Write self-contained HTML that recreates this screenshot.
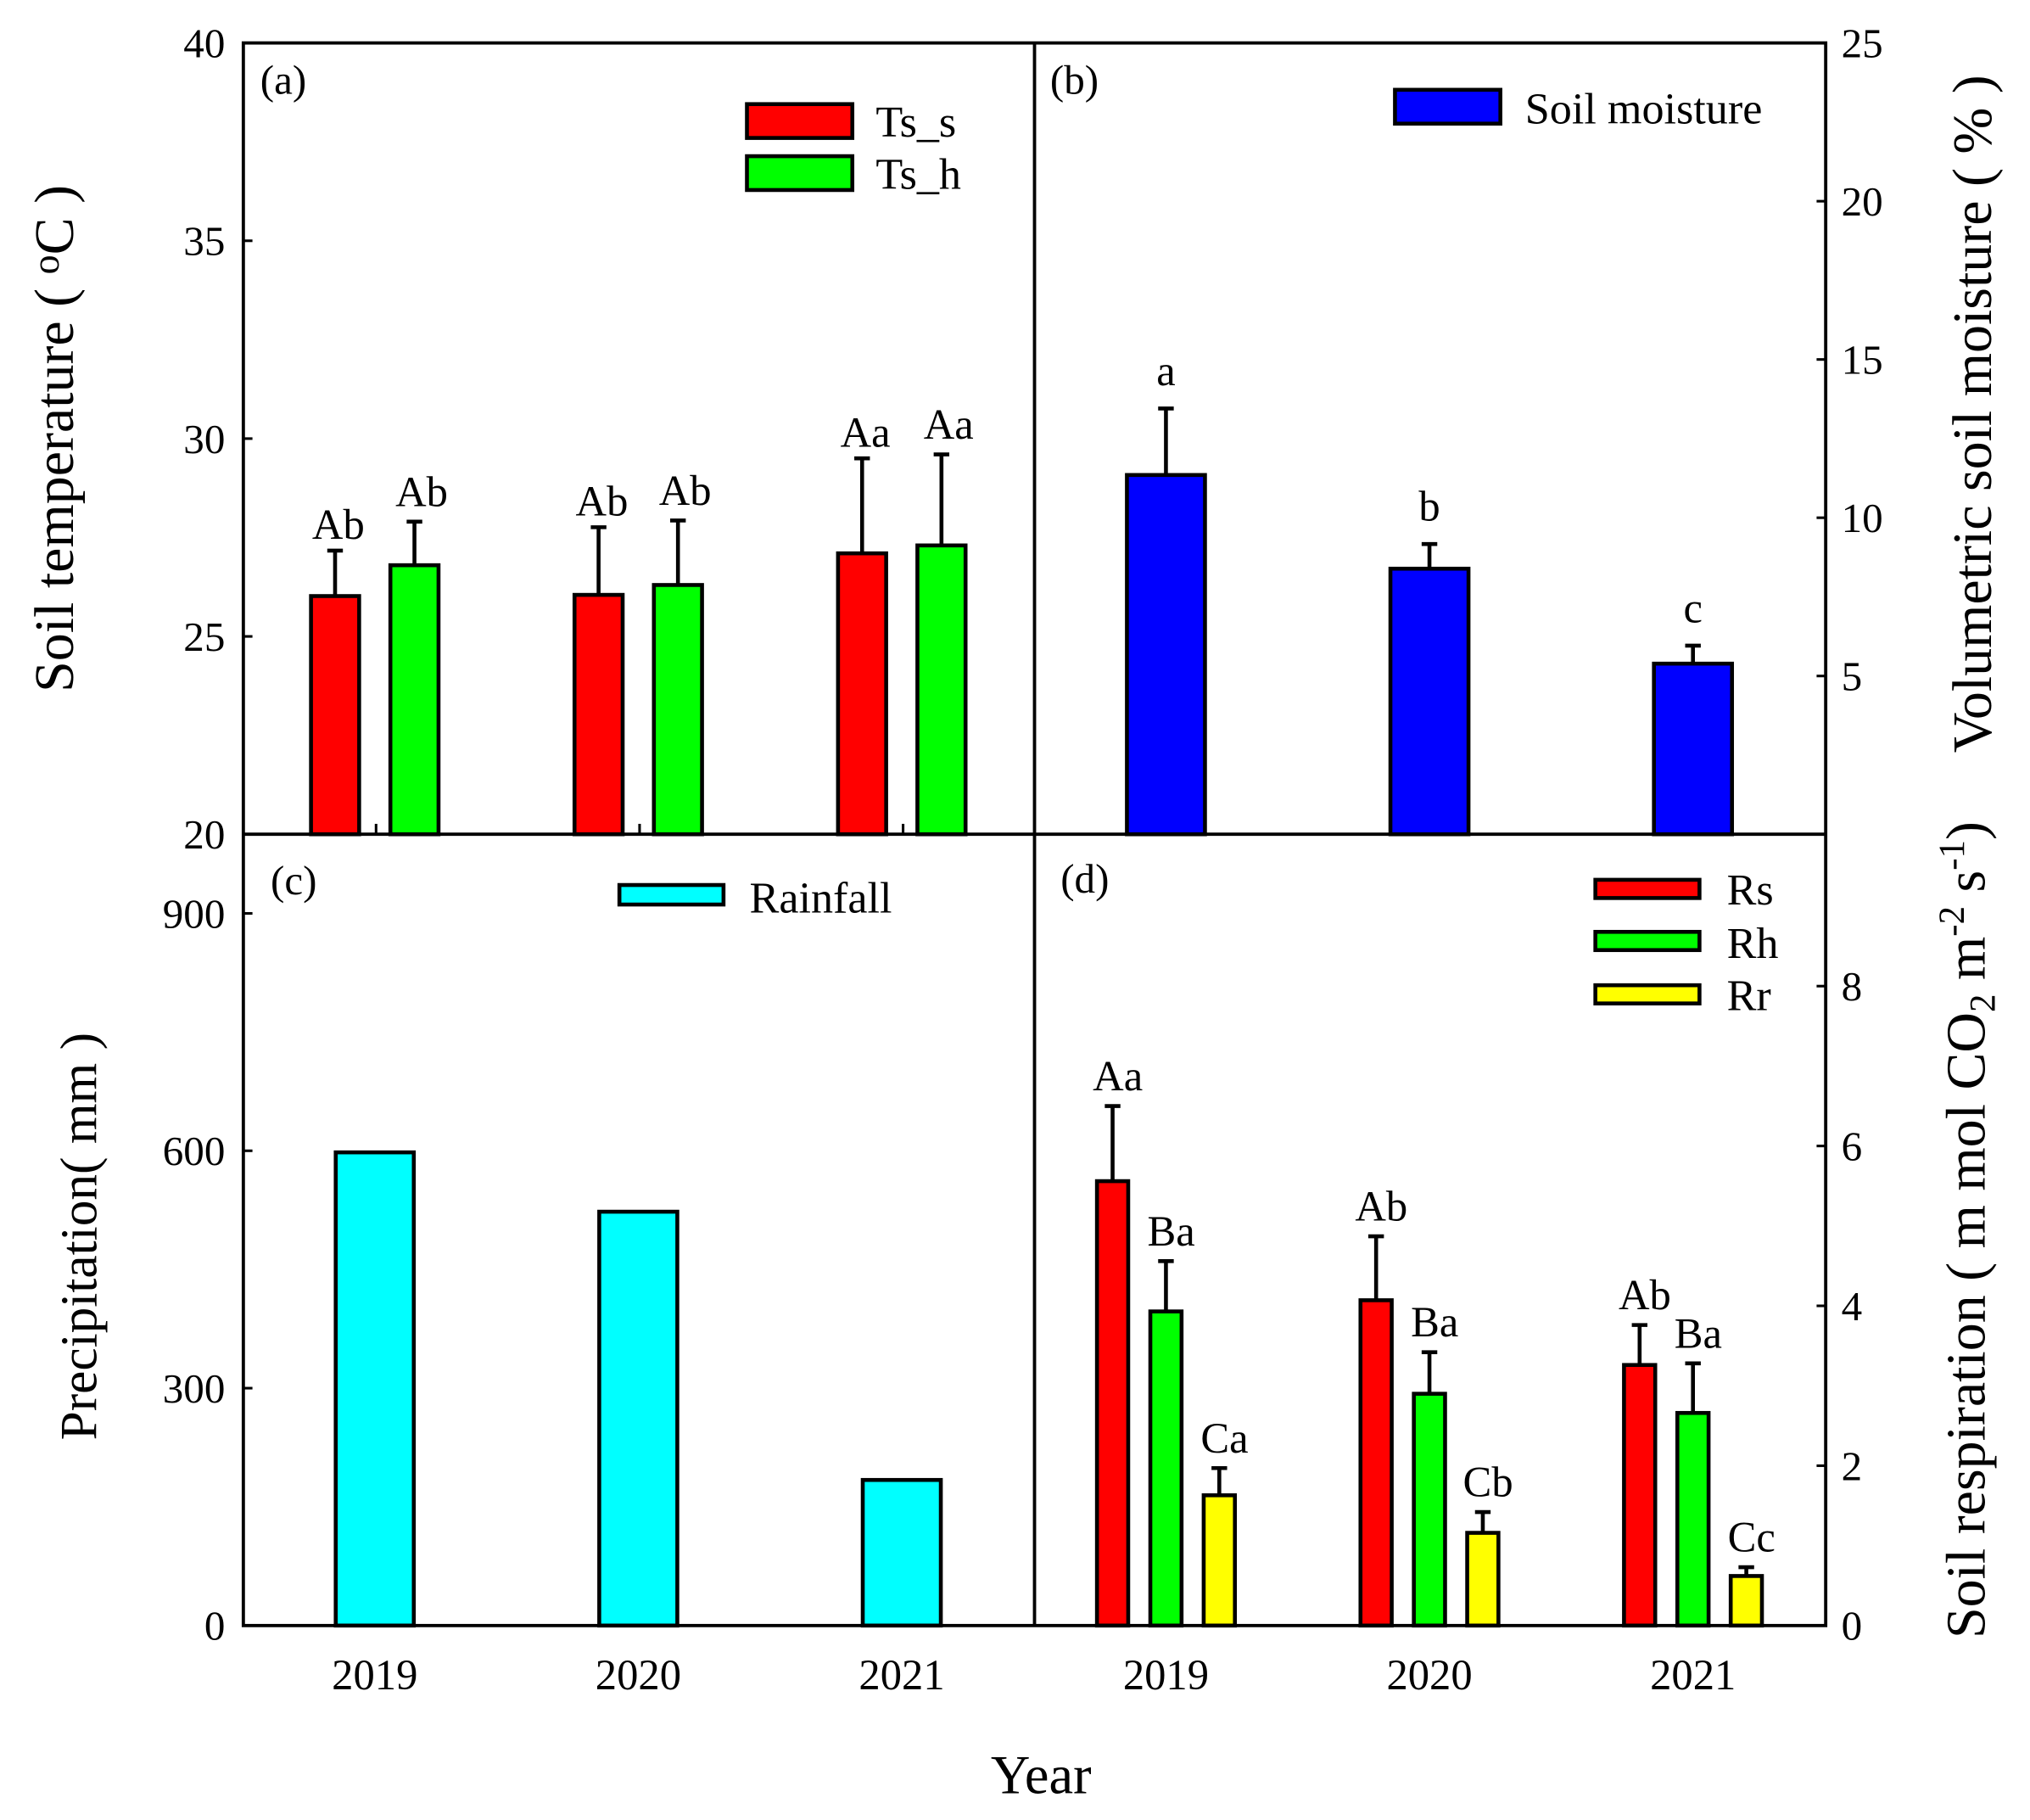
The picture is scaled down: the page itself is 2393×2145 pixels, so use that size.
<!DOCTYPE html>
<html><head><meta charset="utf-8">
<style>
html,body{margin:0;padding:0;background:#fff;}
svg{display:block;font-family:"Liberation Serif",serif;}
text{font-family:"Liberation Serif",serif;}
</style></head>
<body>
<svg id="chart" width="2393" height="2145" viewBox="0 0 1560 1398.4" preserveAspectRatio="none" xmlns="http://www.w3.org/2000/svg" style="position:absolute;left:0;top:0"></svg>
<script>
// ---------- data ----------
const years = ["2019","2020","2021"];
const tsS = [26.02, 26.05, 27.1];
const tsSErr = [1.15, 1.71, 2.4];
const tsH = [26.8, 26.3, 27.3];
const tsHErr = [1.1, 1.63, 2.3];
const tsSLabels = ["Ab","Ab","Aa"];
const tsHLabels = ["Ab","Ab","Aa"];
const moisture = [11.35, 8.39, 5.39];
const moistureErr = [2.1, 0.78, 0.57];
const moistureLabels = ["a","b","c"];
const rainfall = [598, 523, 184];
const rs = [5.56, 4.07, 3.26];
const rsErr = [0.94, 0.8, 0.5];
const rh = [3.93, 2.9, 2.66];
const rhErr = [0.63, 0.52, 0.62];
const rr = [1.63, 1.16, 0.62];
const rrErr = [0.34, 0.26, 0.11];
const rsLabels = ["Aa","Ab","Ab"];
const rhLabels = ["Ba","Ba","Ba"];
const rrLabels = ["Ca","Cb","Cc"];
const tempTicks = [20,25,30,35,40];
const moistTicks = [5,10,15,20,25];
const rainTicks = [0,300,600,900];
const respTicks = [0,2,4,6,8];

// ---------- layout ----------
const NS="http://www.w3.org/2000/svg";
const svg=document.getElementById('chart');
const L=187, M=795, R=1403, T=33, MID=641, B=1249;
function el(tag,attrs,parent){const e=document.createElementNS(NS,tag);for(const k in attrs)e.setAttribute(k,attrs[k]);(parent||svg).appendChild(e);return e;}
function txt(s,x,y,size,anchor,parent){const t=el('text',{x:x,y:y,'font-size':size,'text-anchor':anchor||'middle',fill:'#000','font-family':'Liberation Serif, serif'},parent);t.textContent=s;return t;}

const yTemp=v=>MID-(v-20)/20*(MID-T);
const yMoist=v=>MID-v/25*(MID-T);
const yRain=v=>B-v/1000*(B-MID);
const yResp=v=>B-v/9.9*(B-MID);
const groupA=i=>288+i*202.5;
const groupB=i=>896+i*202.5;

function bar(cx,w,y0,y1,fill,err,name){
  const g=el('g',{});
  
  
  if(err!==null){
    el('line',{x1:cx,x2:cx,y1:y1,y2:err,stroke:'#000','stroke-width':3},g);
    el('line',{x1:cx-6,x2:cx+6,y1:err,y2:err,stroke:'#000','stroke-width':3},g);
  }
  el('rect',{x:cx-w/2,y:y1,width:w,height:y0-y1,fill:fill,stroke:'#000','stroke-width':3},g);
  return g;
}

// Panel a
years.forEach((yr,i)=>{
  const c=groupA(i);
  bar(c-30.5,37,MID,yTemp(tsS[i]),'#ff0000',yTemp(tsS[i]+tsSErr[i]),'bar-ts-s-'+yr);
  bar(c+30.5,37,MID,yTemp(tsH[i]),'#00ff00',yTemp(tsH[i]+tsHErr[i]),'bar-ts-h-'+yr);
  const a=txt(tsSLabels[i],c-28,yTemp(tsS[i]+tsSErr[i])-9,33);
  
  
  const b=txt(tsHLabels[i],c+36,yTemp(tsH[i]+tsHErr[i])-12,33);
  
  
  el('line',{x1:c+1,x2:c+1,y1:MID,y2:MID-8,stroke:'#000','stroke-width':2});
});
// Panel b
years.forEach((yr,i)=>{
  const c=groupB(i);
  bar(c,60,MID,yMoist(moisture[i]),'#0000ff',yMoist(moisture[i]+moistureErr[i]),'bar-moisture-'+yr);
  const t=txt(moistureLabels[i],c,yMoist(moisture[i]+moistureErr[i])-18,33);
  
  
});
// Panel c
years.forEach((yr,i)=>{
  const c=groupA(i);
  bar(c,60,B,yRain(rainfall[i]),'#00ffff',null,'bar-rainfall-'+yr);
});
// Panel d
years.forEach((yr,i)=>{
  const c=groupB(i);
  const sets=[[rs,rsErr,rsLabels,'#ff0000','rs',-41],[rh,rhErr,rhLabels,'#00ff00','rh',0],[rr,rrErr,rrLabels,'#ffff00','rr',41]];
  sets.forEach(s=>{
    const x=c+s[5];
    bar(x,24,B,yResp(s[0][i]),s[3],yResp(s[0][i]+s[1][i]),'bar-'+s[4]+'-'+yr);
    const t=txt(s[2][i],x+4,yResp(s[0][i]+s[1][i])-12,33);
    
    
  });
});

// frames
const fr=el('g',{});


el('rect',{x:L,y:T,width:R-L,height:B-T,fill:'none',stroke:'#000','stroke-width':2.5},fr);
el('line',{x1:M,x2:M,y1:T,y2:B,stroke:'#000','stroke-width':2.5},fr);
el('line',{x1:L,x2:R,y1:MID,y2:MID,stroke:'#000','stroke-width':2.5},fr);

// ticks
tempTicks.forEach(v=>{const y=yTemp(v);el('line',{x1:L,x2:L+7,y1:y,y2:y,stroke:'#000','stroke-width':2});
  const t=txt(String(v),L-14,y+11,32,'end');});
moistTicks.forEach(v=>{const y=yMoist(v);el('line',{x1:R-7,x2:R,y1:y,y2:y,stroke:'#000','stroke-width':2});
  const t=txt(String(v),R+12,y+11,32,'start');});
rainTicks.forEach(v=>{const y=yRain(v);el('line',{x1:L,x2:L+7,y1:y,y2:y,stroke:'#000','stroke-width':2});
  const t=txt(String(v),L-14,y+11,32,'end');});
respTicks.forEach(v=>{const y=yResp(v);el('line',{x1:R-7,x2:R,y1:y,y2:y,stroke:'#000','stroke-width':2});
  const t=txt(String(v),R+12,y+11,32,'start');});
years.forEach((yr,i)=>{
  const a=txt(yr,groupA(i),1298,33);
  const b=txt(yr,groupB(i),1298,33);
});
</script>
<svg style="position:absolute;left:0;top:0" width="2393" height="2145" viewBox="0 0 1560 1398.4" preserveAspectRatio="none" xmlns="http://www.w3.org/2000/svg" font-family="Liberation Serif, serif">
  <text x="200" y="72" font-size="32">(a)</text>
  <text x="807" y="72" font-size="32">(b)</text>
  <text x="208" y="687" font-size="32">(c)</text>
  <text x="815" y="686" font-size="32">(d)</text>
  <g>
    <rect x="574" y="80" width="81" height="26" fill="#ff0000" stroke="#000" stroke-width="3"/>
    <text x="673" y="105" font-size="34">Ts_s</text>
    <rect x="574" y="120" width="81" height="26" fill="#00ff00" stroke="#000" stroke-width="3"/>
    <text x="673" y="145" font-size="34">Ts_h</text>
  </g>
  <g>
    <rect x="1072" y="69" width="81" height="26" fill="#0000ff" stroke="#000" stroke-width="3"/>
    <text x="1172" y="95" font-size="34">Soil moisture</text>
  </g>
  <g>
    <rect x="476" y="680" width="80" height="15" fill="#00ffff" stroke="#000" stroke-width="3"/>
    <text x="576" y="701" font-size="34">Rainfall</text>
  </g>
  <g>
    <rect x="1226" y="676" width="80" height="14" fill="#ff0000" stroke="#000" stroke-width="3"/>
    <text x="1327" y="695" font-size="34">Rs</text>
    <rect x="1226" y="716" width="80" height="14" fill="#00ff00" stroke="#000" stroke-width="3"/>
    <text x="1327" y="736" font-size="34">Rh</text>
    <rect x="1226" y="757" width="80" height="14" fill="#ffff00" stroke="#000" stroke-width="3"/>
    <text x="1327" y="776" font-size="34">Rr</text>
  </g>
  <text transform="translate(56,337) rotate(-90)" font-size="43" text-anchor="middle">Soil temperature ( <tspan font-size="30" dy="-11">o</tspan><tspan dy="11">C )</tspan></text>
  <text transform="translate(74,950) rotate(-90)" font-size="40" text-anchor="middle">Precipitation( mm )</text>
  <text transform="translate(1530,318) rotate(-90)" font-size="43" text-anchor="middle">Volumetric soil moisture ( % )</text>
  <text transform="translate(1525,945) rotate(-90)" font-size="43" text-anchor="middle">Soil respiration ( m mol CO<tspan font-size="28" dy="8">2</tspan><tspan dy="-8"> m</tspan><tspan font-size="28" dy="-16">-2</tspan><tspan dy="16"> s</tspan><tspan font-size="28" dy="-16">-1</tspan><tspan dy="16">)</tspan></text>
  <text x="800" y="1378" font-size="42" text-anchor="middle">Year</text>
</svg>
</body></html>
